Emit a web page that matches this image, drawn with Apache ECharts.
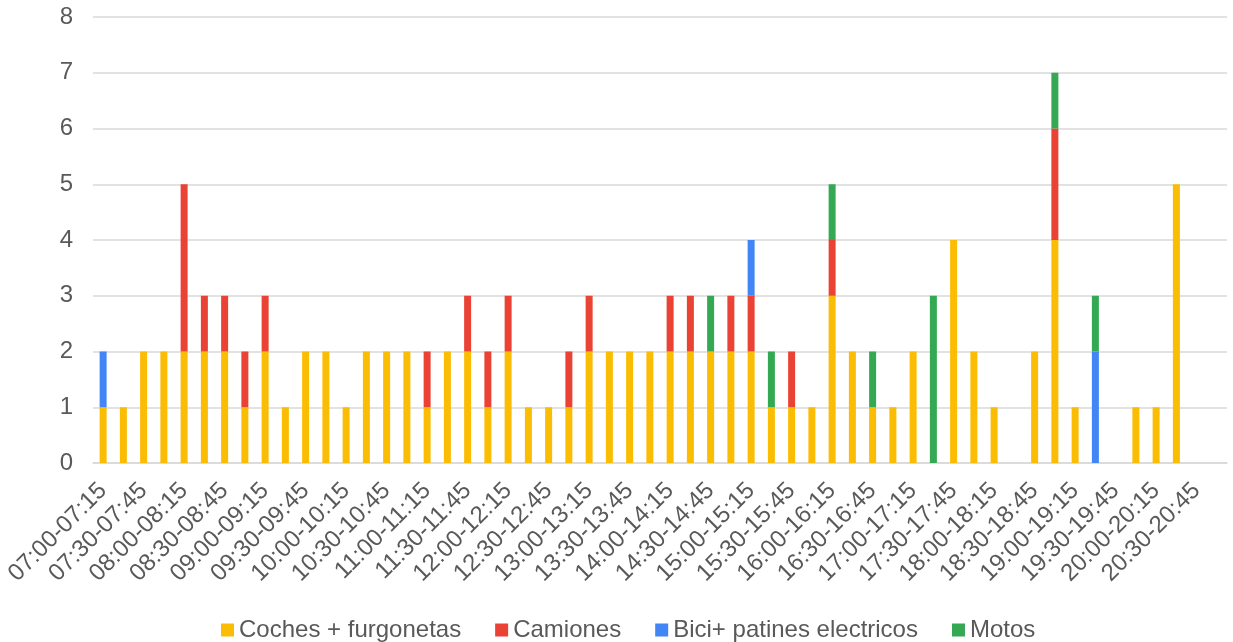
<!DOCTYPE html>
<html>
<head>
<meta charset="utf-8">
<script src="https://cdn.jsdelivr.net/npm/echarts@6/dist/echarts.min.js"></script>
<style>
html,body{margin:0;padding:0;background:#fff;}
#chart{width:1233px;height:642px;}
</style>
</head>
<body>
<div id="chart"></div>
<script>
const categories = [
  "07:00-07:15","07:15-07:30","07:30-07:45","07:45-08:00",
  "08:00-08:15","08:15-08:30","08:30-08:45","08:45-09:00",
  "09:00-09:15","09:15-09:30","09:30-09:45","09:45-10:00",
  "10:00-10:15","10:15-10:30","10:30-10:45","10:45-11:00",
  "11:00-11:15","11:15-11:30","11:30-11:45","11:45-12:00",
  "12:00-12:15","12:15-12:30","12:30-12:45","12:45-13:00",
  "13:00-13:15","13:15-13:30","13:30-13:45","13:45-14:00",
  "14:00-14:15","14:15-14:30","14:30-14:45","14:45-15:00",
  "15:00-15:15","15:15-15:30","15:30-15:45","15:45-16:00",
  "16:00-16:15","16:15-16:30","16:30-16:45","16:45-17:00",
  "17:00-17:15","17:15-17:30","17:30-17:45","17:45-18:00",
  "18:00-18:15","18:15-18:30","18:30-18:45","18:45-19:00",
  "19:00-19:15","19:15-19:30","19:30-19:45","19:45-20:00",
  "20:00-20:15","20:15-20:30","20:30-20:45","20:45-21:00"
];
const seriesNames = ["Coches + furgonetas","Camiones","Bici+ patines electricos","Motos"];
const coches = [1,1,2,2,2,2,2,1,2,1,2,2,1,2,2,2,1,2,2,1,2,1,1,1,2,2,2,2,2,2,2,2,2,1,1,1,3,2,1,1,2,0,4,2,1,0,2,4,1,0,0,1,1,5,0,0];
const camiones = [0,0,0,0,3,1,1,1,1,0,0,0,0,0,0,0,1,0,1,1,1,0,0,1,1,0,0,0,1,1,0,1,1,0,1,0,1,0,0,0,0,0,0,0,0,0,0,2,0,0,0,0,0,0,0,0];
const bici = [1,0,0,0,0,0,0,0,0,0,0,0,0,0,0,0,0,0,0,0,0,0,0,0,0,0,0,0,0,0,0,0,1,0,0,0,0,0,0,0,0,0,0,0,0,0,0,0,0,2,0,0,0,0,0,0];
const motos = [0,0,0,0,0,0,0,0,0,0,0,0,0,0,0,0,0,0,0,0,0,0,0,0,0,0,0,0,0,0,1,0,0,1,0,0,1,0,1,0,0,3,0,0,0,0,0,1,0,1,0,0,0,0,0,0];
const colors = ["#FBBC04","#EA4335","#4285F4","#34A853"];
const yMin = 0, yMax = 8, yInterval = 1;

const FONT = 'Liberation Sans, Arial, sans-serif';
const chart = echarts.init(document.getElementById('chart'), null, {renderer:'canvas'});
const dataSets = [coches, camiones, bici, motos];
chart.setOption({
  animation: false,
  color: colors,
  textStyle: {fontFamily: FONT},
  grid: {left: 93, right: 6, top: 17, bottom: 179, containLabel: false},
  legend: {
    top: 613,
    left: 216,
    itemWidth: 13, itemHeight: 13, itemGap: 34,
    icon: 'rect',
    textStyle: {fontSize: 24, color: '#595959', fontFamily: FONT},
    data: seriesNames
  },
  xAxis: {
    type: 'category',
    data: categories,
    axisLine: {lineStyle: {color: '#d9d9d9', width: 1.5}},
    axisTick: {show: false},
    axisLabel: {
      interval: 1, rotate: 45, fontSize: 24, color: '#595959', margin: 24,
      fontFamily: FONT
    }
  },
  yAxis: {
    type: 'value',
    min: yMin, max: yMax, interval: yInterval,
    axisLine: {show: false},
    axisTick: {show: false},
    splitLine: {lineStyle: {color: '#d9d9d9', width: 1.5}},
    axisLabel: {fontSize: 24, color: '#595959', margin: 20, fontFamily: FONT}
  },
  series: seriesNames.map((n, i) => ({
    name: n,
    type: 'bar',
    stack: 'total',
    barWidth: 7,
    data: dataSets[i],
    itemStyle: {color: colors[i]}
  }))
});
</script>
</body>
</html>
